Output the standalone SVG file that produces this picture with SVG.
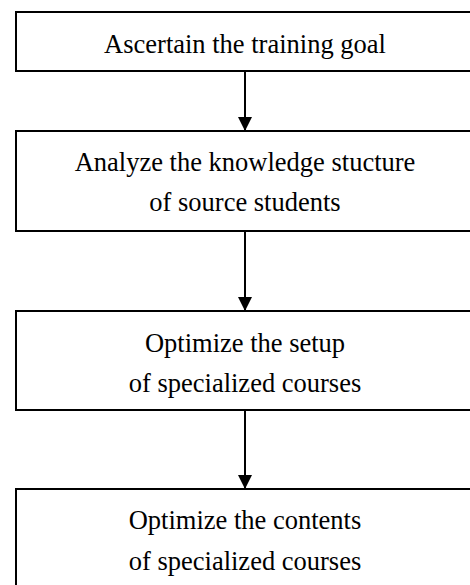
<svg xmlns="http://www.w3.org/2000/svg" width="470" height="585" viewBox="0 0 470 585">
<style>
.box{fill:#fff;stroke:#000;stroke-width:2}
.t{font-family:"Liberation Serif","Times New Roman",serif;font-size:26.5px;fill:#000;text-anchor:middle}
.c{stroke:#000;stroke-width:2;fill:none}
</style>
<defs>
<marker id="ah" markerUnits="userSpaceOnUse" markerWidth="16" markerHeight="16" refX="14" refY="7" orient="auto">
<path d="M0,0 L14,7 L0,14 Z" fill="#000"/>
</marker>
</defs>
<rect width="470" height="585" fill="#fff"/>
<g id="n1"><rect class="box" x="16" y="12" width="460" height="59"/><text class="t" x="245" y="53">Ascertain the training goal</text></g>
<g id="n2"><rect class="box" x="16" y="131" width="460" height="100"/><text class="t" x="245" y="171">Analyze the knowledge stucture</text><text class="t" x="245" y="211">of source students</text></g>
<g id="n3"><rect class="box" x="16" y="311" width="460" height="99"/><text class="t" x="245" y="352">Optimize the setup</text><text class="t" x="245" y="392">of specialized courses</text></g>
<g id="n4"><rect class="box" x="16" y="489" width="460" height="110"/><text class="t" x="245" y="529">Optimize the contents</text><text class="t" x="245" y="570">of specialized courses</text></g>
<g id="connectors">
<line class="c" x1="245" y1="71" x2="245" y2="131" marker-end="url(#ah)"/>
<line class="c" x1="245" y1="231" x2="245" y2="311" marker-end="url(#ah)"/>
<line class="c" x1="245" y1="410" x2="245" y2="489" marker-end="url(#ah)"/>
</g>
</svg>
